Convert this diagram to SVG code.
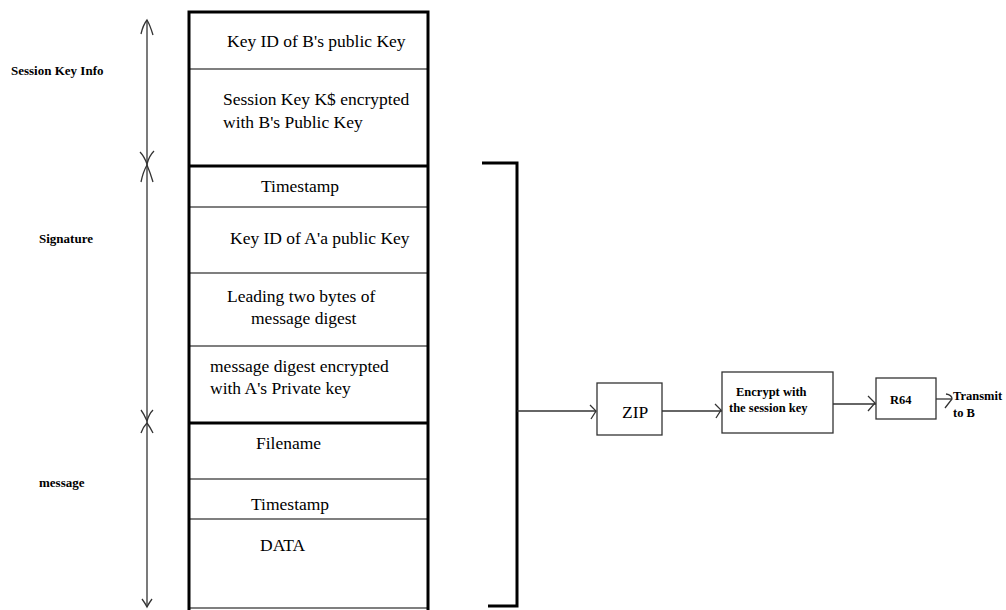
<svg xmlns="http://www.w3.org/2000/svg" width="1006" height="610" viewBox="0 0 1006 610">
<style>
.t{font-family:"Liberation Serif","Times New Roman",serif;font-size:17.5px;fill:#000}
.lb{font-family:"Liberation Serif","Times New Roman",serif;font-weight:bold;font-size:13px;fill:#000}
.sb{font-family:"Liberation Serif","Times New Roman",serif;font-weight:bold;font-size:12.5px;fill:#000}
.thick{stroke:#000;stroke-width:3;fill:none}
.thin{stroke:#555;stroke-width:1.5;fill:none}
.con{stroke:#333;stroke-width:1.3;fill:none}
.box{stroke:#333;stroke-width:1.3;fill:#fff}
</style>
<rect width="1006" height="610" fill="#fff"/>
<g id="stack">
<line class="thin" x1="189" y1="69" x2="428" y2="69"/>
<line class="thin" x1="189" y1="207" x2="428" y2="207"/>
<line class="thin" x1="189" y1="273" x2="428" y2="273"/>
<line class="thin" x1="189" y1="346" x2="428" y2="346"/>
<line class="thin" x1="189" y1="479" x2="428" y2="479"/>
<line class="thin" x1="189" y1="519" x2="428" y2="519"/>
<line class="thin" x1="189" y1="608" x2="428" y2="608"/>
<rect class="thick" x="189" y="12" width="239" height="600"/>
<line class="thick" x1="189" y1="166" x2="428" y2="166"/>
<line class="thick" x1="189" y1="423" x2="428" y2="423"/>
</g>
<g id="cell-keyid-b"><text class="t" x="227" y="47">Key ID of B's public Key</text></g>
<g id="cell-session-key"><text class="t" x="223" y="105">Session Key K$ encrypted</text><text class="t" x="223" y="128">with B's Public Key</text></g>
<g id="cell-timestamp-sig"><text class="t" x="261" y="192">Timestamp</text></g>
<g id="cell-keyid-a"><text class="t" x="230" y="244">Key ID of A'a public Key</text></g>
<g id="cell-leading"><text class="t" x="227" y="302">Leading two bytes of</text><text class="t" x="251" y="324">message digest</text></g>
<g id="cell-digest"><text class="t" x="210" y="372">message digest encrypted</text><text class="t" x="210" y="394">with A's Private key</text></g>
<g id="cell-filename"><text class="t" x="256" y="449">Filename</text></g>
<g id="cell-timestamp-msg"><text class="t" x="251" y="510">Timestamp</text></g>
<g id="cell-data"><text class="t" x="260" y="551">DATA</text></g>
<g id="label-session"><text class="lb" x="11" y="75" font-size="12.5">Session Key Info</text></g>
<g id="label-signature"><text class="lb" x="39" y="243">Signature</text></g>
<g id="label-message"><text class="lb" x="39" y="487">message</text></g>
<g id="bracket"><path class="thick" d="M482,163 H517 V606 H488"/></g>
<g id="zip"><rect class="box" x="597" y="383" width="65" height="52"/><text class="t" x="622" y="418" font-size="16">ZIP</text></g>
<g id="encrypt"><rect class="box" x="722" y="372" width="111" height="61"/><text class="sb" x="736" y="396">Encrypt with</text><text class="sb" x="729" y="412">the session key</text></g>
<g id="r64"><rect class="box" x="876" y="378" width="60" height="41"/><text class="sb" x="890" y="404" font-size="15">R64</text></g>
<g id="transmit"><text class="sb" x="953" y="400" font-size="13">Transmit</text><text class="sb" x="953" y="417" font-size="13">to B</text></g>
<g id="connectors">
<line class="con" x1="147" y1="20" x2="147" y2="607"/>
<path class="con" d="M141,34 Q143,25 147,20 Q150,25 153,35"/>
<path class="con" d="M140,152 Q144,156 147,164 Q149,156 154,151"/>
<path class="con" d="M141,182 Q143,172 147,165 Q150,172 153,182"/>
<path class="con" d="M141,410 Q144,414 147,421 Q149,414 153,410"/>
<path class="con" d="M141,433 Q143,427 147,423 Q150,427 153,433"/>
<path class="con" d="M142,599 Q145,603 147,607 Q149,603 152,599"/>
<line class="con" x1="517" y1="411" x2="596" y2="411"/>
<path class="con" d="M590,405 L596,411 L591,419"/>
<line class="con" x1="662" y1="411" x2="722" y2="411"/>
<path class="con" d="M715,404 L721,410 L716,418"/>
<line class="con" x1="833" y1="404" x2="876" y2="404"/>
<path class="con" d="M868,396 L875,403 L868,411"/>
<line class="con" x1="936" y1="399" x2="952" y2="399"/>
<path class="con" d="M946,394 Q952,395 952,399 L945,408"/>
</g>
</svg>
